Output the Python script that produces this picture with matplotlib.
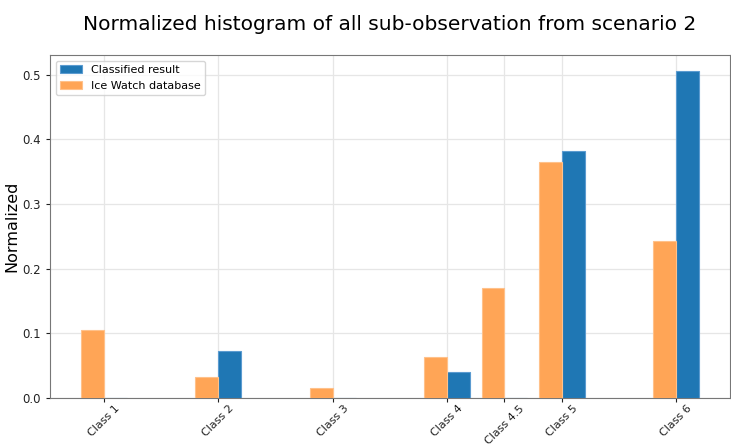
import numpy as np
import matplotlib.pyplot as plt

# class positions on the x axis and their labels
classes = [1, 2, 3, 4, 4.5, 5, 6]
class_labels = ['Class 1', 'Class 2', 'Class 3', 'Class 4', 'Class 4.5', 'Class 5', 'Class 6']

# normalized counts
ice_watch = [0.105, 0.032, 0.015, 0.064, 0.170, 0.365, 0.243]
classified = [0.0, 0.073, 0.0, 0.040, 0.0, 0.382, 0.505]

fig = plt.figure(figsize=(7.31, 4.46), dpi=100)
ax = fig.add_axes([50/731, 48/446, 680/731, 343/446])

w = 0.2
ax.bar(classes, classified, width=w, align='edge', color='#1f77b4',
       edgecolor='#5b9bd0', linewidth=0.8, label='Classified result', zorder=3)
ax.bar(classes, ice_watch, width=-w, align='edge', color='#ffa556',
       edgecolor='#ffc18a', linewidth=0.8, label='Ice Watch database', zorder=3)

ax.set_xticks(classes)
ax.set_xticklabels(class_labels, rotation=45)
ax.tick_params(labelsize=8.5, colors='#222222', length=3)
ax.tick_params(axis='x', labelsize=8, pad=1)
ax.grid(True, color='#e6e6e6', linewidth=0.9, zorder=0)
for s in ax.spines.values():
    s.set_color('#777777')

ax.set_ylabel('Normalized', fontsize=11.5, labelpad=2)
ax.set_title('Normalized histogram of all sub-observation from scenario 2', fontsize=14.5, pad=18)
ax.legend(loc='upper left', fontsize=8)

plt.savefig('out.png', dpi=100)
